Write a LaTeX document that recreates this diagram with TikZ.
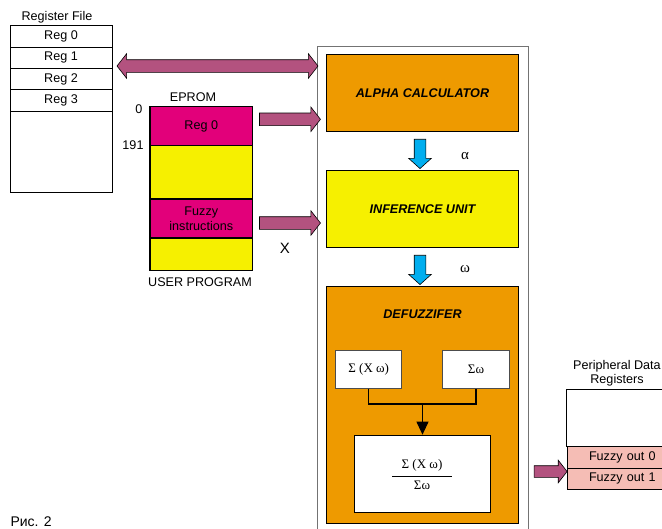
\documentclass[tikz,border=0pt]{standalone}
\usepackage{fontspec}
\setmainfont{Liberation Sans}
\newfontfamily\grk{Liberation Serif}
\usetikzlibrary{shapes.arrows,arrows.meta}

\definecolor{fatmag}{HTML}{B3527F}
\definecolor{eprmag}{HTML}{E2007A}
\definecolor{ylw}{HTML}{F6F000}
\definecolor{orng}{HTML}{EE9A00}
\definecolor{skyblue}{HTML}{00AEEF}
\definecolor{pinkreg}{HTML}{F5BDB5}

\begin{document}
\begin{tikzpicture}[
  x=1pt, y=-1pt,
  font=\fontsize{12.6}{14.5}\selectfont,
  reg/.style={rectangle, draw, line width=0.8pt, minimum width=102pt, minimum height=21.3pt, inner sep=0pt},
  mem/.style={rectangle, draw, line width=1.2pt, minimum width=102.7pt, inner sep=0pt, align=center},
  unit/.style={rectangle, draw, line width=0.9pt, fill=orng, minimum width=191.6pt, inner sep=0pt, font=\fontsize{12.6}{14.5}\selectfont\bfseries\itshape},
  sub/.style={rectangle, draw=black!70, line width=0.8pt, fill=white, inner sep=0pt, font=\fontsize{13}{15}\selectfont\grk},
  fatright/.style={single arrow, draw, line width=0.6pt, fill=fatmag, inner xsep=0pt, inner ysep=6pt, minimum width=24pt,
    single arrow head extend=6pt, single arrow tip angle=104, shape border rotate=0},
  fatdown/.style={single arrow, draw, line width=0.6pt, fill=skyblue, inner xsep=5.5pt, inner ysep=0pt, minimum width=22pt,
    single arrow head extend=5.5pt, single arrow tip angle=96, shape border rotate=270},
  perireg/.style={rectangle, draw, line width=0.6pt, fill=pinkreg, minimum width=110pt, minimum height=21.2pt, inner sep=0pt, text width=102pt, align=left}
]
\useasboundingbox (0,0) rectangle (662,528);

% register file
\node (rflabel) at (57,17) {Register File};
\draw[line width=0.8pt] (10,25.7) rectangle (112,192);
\node[reg] (reg0) at (61,36.3) {Reg 0};
\node[reg] (reg1) at (61,57.7) {Reg 1};
\node[reg] (reg2) at (61,79) {Reg 2};
\node[reg] (reg3) at (61,100.3) {Reg 3};

% EPROM
\node (eprom) at (193,97) {EPROM};
\node[mem, fill=eprmag, minimum height=39pt] (eregz) at (201.3,126.2) {Reg 0};
\node[mem, fill=ylw, minimum height=53.3pt] (efree) at (201.3,172.3) {};
\node[mem, fill=eprmag, minimum height=39pt] (efuzzy) at (201.3,218.5) {Fuzzy\\instructions};
\node[mem, fill=ylw, minimum height=32.7pt] (erest) at (201.3,254.3) {};
\node (addrzero) at (139,109) {0};
\node (addrend) at (133,145) {191};
\node (userprog) at (200,282) {USER PROGRAM};
\node[font=\fontsize{15}{17}\selectfont] (xin) at (285,248) {X};

% fuzzy processor
\draw[line width=0.8pt, draw=black!55] (317.3,540) |- (528.3,46.7) -- (528.3,540);
\node[unit, minimum height=77.4pt] (alpha) at (422.5,93) {ALPHA CALCULATOR};
\node[unit, fill=ylw, minimum height=76.6pt] (infer) at (422.5,209) {INFERENCE UNIT};
\node[unit, minimum height=236.6pt] (defuzz) at (422.5,405) {};
\node[font=\fontsize{12.6}{14.5}\selectfont\bfseries\itshape] (deftitle) at (422.5,314) {DEFUZZIFER};
\node[sub, minimum width=66pt, minimum height=37.6pt] (sumxw) at (368.7,369.5) {Σ (X ω)};
\node[sub, minimum width=66.6pt, minimum height=37.6pt] (sumw) at (476,369.5) {Σω};
\node[sub, draw=black, minimum width=136.4pt, minimum height=77.3pt] (result) at (422.5,473.7) {};
\node[font=\fontsize{13}{15}\selectfont\grk] (numer) at (422,465) {Σ (X ω)};
\node[font=\fontsize{13}{15}\selectfont\grk] (denom) at (422,485) {Σω};
\draw[line width=1pt] (392.3,476) -- (451.7,476);
\node[font=\fontsize{15}{17}\selectfont\grk] (alphalbl) at (465,156) {α};
\node[font=\fontsize{15}{17}\selectfont\grk] (omegalbl) at (465,269) {ω};

\coordinate (join) at (422.5,404);
\draw[line width=1.1pt] (sumxw.south) |- (join) -| (sumw.south);
\draw[line width=1.1pt, -{Triangle[width=12pt,length=13pt]}] (join) -- (result.north);

% peripheral data registers
\node[align=center] (perilabel) at (617,373) {Peripheral Data\\Registers};
\draw[line width=0.6pt] (675,389.3) -| (566.7,446.7);
\node[perireg, anchor=west] (fout0) at (566.7,457.2) {\hspace*{18pt}Fuzzy out 0};
\node[perireg, anchor=west] (fout1) at (566.7,478.4) {\hspace*{18pt}Fuzzy out 1};

% fat arrows
\node[double arrow, draw, line width=0.6pt, fill=fatmag, inner xsep=0pt, inner ysep=6pt, minimum width=24pt, double arrow head extend=6pt,
  double arrow tip angle=104, minimum height=201pt] (busarrow) at (217.5,66) {};
\node[fatright, minimum height=61pt] (toalpha) at (287.5,119.3) {};
\node[fatright, minimum height=61pt] (toinfer) at (287.5,223) {};
\node[fatright, minimum height=33pt, minimum width=22pt, inner ysep=5.5pt, single arrow head extend=5.5pt] (toperi) at (548.3,471.5) {};
\node[fatdown, minimum height=29.3pt] (alphadown) at (420,151.3) {};
\node[fatdown, minimum height=29.3pt] (inferdown) at (420,267.3) {};

% caption
\node[anchor=base west, font=\fontsize{14}{16}\selectfont] (caption) at (7,526) {Рис. 2};
\end{tikzpicture}
\end{document}
